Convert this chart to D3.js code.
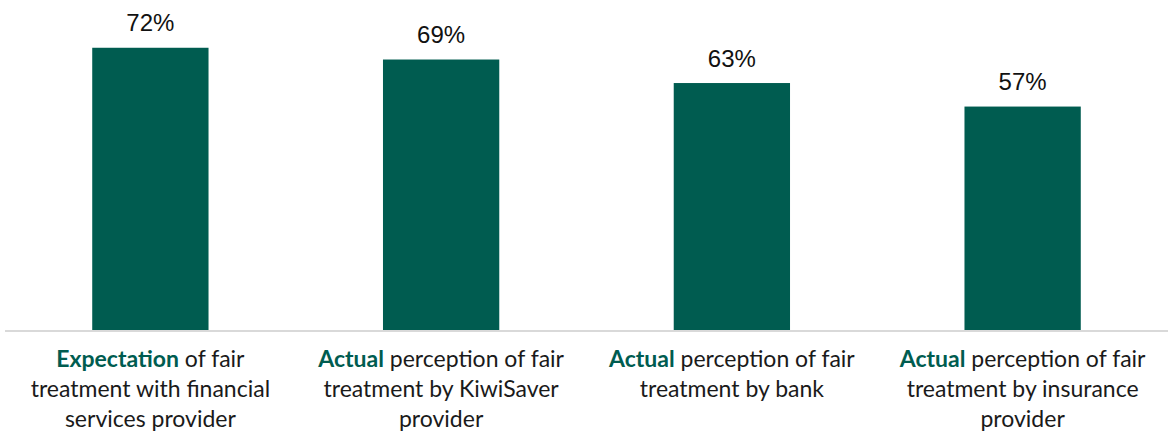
<!DOCTYPE html>
<html>
<head>
<meta charset="utf-8">
<script src="https://cdn.jsdelivr.net/npm/d3@7"></script>
<style>
  html, body { margin: 0; padding: 0; background: #fff; }
  svg { display: block; }
</style>
</head>
<body>
<svg id="chart" width="1168" height="435"></svg>
<script>
// Share of respondents (percent)
const categories = [
  "Expectation of fair treatment with financial services provider",
  "Actual perception of fair treatment by KiwiSaver provider",
  "Actual perception of fair treatment by bank",
  "Actual perception of fair treatment by insurance provider"
];
const values = [72, 69, 63, 57];
// Category label lines: [bold lead word, rest of first line], following lines
const labelLines = [
  [["Expectation", " of fair"], ["treatment with financial"], ["services provider"]],
  [["Actual", " perception of fair"], ["treatment by KiwiSaver"], ["provider"]],
  [["Actual", " perception of fair"], ["treatment by bank"]],
  [["Actual", " perception of fair"], ["treatment by insurance"], ["provider"]]
];

const green = "#005C50";
const svg = d3.select("#chart");

const x = d3.scaleBand()
  .domain(categories)
  .range([5, 1168])
  .paddingInner(0.6)
  .paddingOuter(0.3);

const y = d3.scaleLinear()
  .domain([0, 80])
  .range([330, 16.4]);

// Bars
svg.append("g")
  .selectAll("rect")
  .data(values)
  .join("rect")
  .attr("x", (d, i) => x(categories[i]))
  .attr("y", d => y(d))
  .attr("width", x.bandwidth())
  .attr("height", d => y(0) - y(d))
  .attr("fill", green);

// Baseline
svg.append("line")
  .attr("x1", 5).attr("x2", 1168)
  .attr("y1", y(0) + 1).attr("y2", y(0) + 1)
  .attr("stroke", "#d9d9d9")
  .attr("stroke-width", 2);

// Value labels
svg.append("g")
  .selectAll("text")
  .data(values)
  .join("text")
  .attr("x", (d, i) => x(categories[i]) + x.bandwidth() / 2)
  .attr("y", d => y(d) - 16.5)
  .attr("text-anchor", "middle")
  .attr("font-family", "Liberation Sans, Arial, sans-serif")
  .attr("font-size", 24)
  .attr("fill", "#111")
  .text(d => d + "%");

// Category labels
const lab = svg.append("g")
  .attr("font-family", "'Source Sans Pro', Lato, sans-serif")
  .attr("font-size", 23)
  .attr("fill", "#1a1a1a");

labelLines.forEach((lines, i) => {
  const cx = x(categories[i]) + x.bandwidth() / 2;
  const t = lab.append("text")
    .attr("x", cx)
    .attr("text-anchor", "middle");
  lines.forEach((line, j) => {
    if (line.length === 2) {
      t.append("tspan")
        .attr("x", cx)
        .attr("y", 367 + j * 30)
        .attr("font-weight", "bold")
        .attr("fill", green)
        .text(line[0]);
      t.append("tspan").text(line[1]);
    } else {
      t.append("tspan")
        .attr("x", cx)
        .attr("y", 367 + j * 30)
        .text(line[0]);
    }
  });
});
</script>
</body>
</html>
